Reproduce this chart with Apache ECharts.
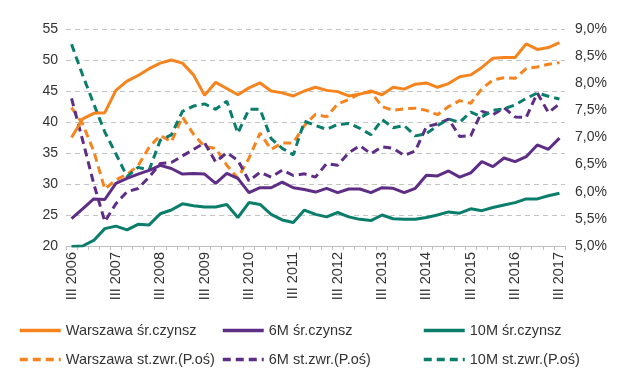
<!DOCTYPE html>
<html>
<head>
<meta charset="utf-8">
<script src="https://cdn.jsdelivr.net/npm/echarts@6/dist/echarts.min.js"></script>
<style>
html,body{margin:0;padding:0;background:#fff;}
#chart{width:640px;height:383px;}
</style>
</head>
<body>
<div id="chart"></div>
<script>
var categories = [
 "III 2006","IV 2006","I 2007","II 2007","III 2007","IV 2007","I 2008","II 2008",
 "III 2008","IV 2008","I 2009","II 2009","III 2009","IV 2009","I 2010","II 2010",
 "III 2010","IV 2010","I 2011","II 2011","III 2011","IV 2011","I 2012","II 2012",
 "III 2012","IV 2012","I 2013","II 2013","III 2013","IV 2013","I 2014","II 2014",
 "III 2014","IV 2014","I 2015","II 2015","III 2015","IV 2015","I 2016","II 2016",
 "III 2016","IV 2016","I 2017","II 2017","III 2017"
];
// left axis: average rent (PLN/m2)
var warszawaRent = [37.5,40.5,41.4,41.5,45.1,46.6,47.5,48.6,49.5,50.0,49.5,47.6,44.3,46.4,45.4,44.4,
 45.5,46.3,45.0,44.7,44.2,45.0,45.6,45.1,44.9,44.2,44.5,45.0,44.4,45.6,45.3,46.1,
 46.3,45.6,46.2,47.3,47.6,48.8,50.3,50.4,50.4,52.6,51.7,52.0,52.8];
var m6Rent = [24.4,26.0,27.6,27.5,30.1,30.9,31.6,32.2,33.0,32.5,31.6,31.7,31.6,30.1,31.7,30.9,
 28.6,29.4,29.4,30.3,29.4,29.1,28.7,29.3,28.6,29.2,29.2,28.6,29.4,29.3,28.6,29.3,
 31.4,31.3,32.1,31.1,31.8,33.6,32.8,34.2,33.6,34.4,36.3,35.6,37.4];
var m10Rent = [19.9,20.0,20.9,22.8,23.2,22.6,23.5,23.4,25.2,25.8,26.8,26.5,26.3,26.3,26.7,24.6,
 27.0,26.7,25.1,24.2,23.8,25.8,25.1,24.7,25.4,24.7,24.3,24.1,25.0,24.4,24.3,24.3,
 24.6,25.0,25.5,25.3,26.0,25.7,26.2,26.6,27.0,27.6,27.6,28.1,28.5];
// right axis: rate of return (%)
var warszawaYield = [7.55,7.25,6.75,6.05,6.22,6.32,6.48,6.82,7.04,6.92,7.38,7.06,6.83,6.80,6.49,6.25,
 6.62,7.08,6.78,6.90,6.90,7.22,7.43,7.38,7.62,7.70,7.81,7.84,7.57,7.50,7.53,7.54,
 7.50,7.42,7.57,7.68,7.63,7.90,8.06,8.10,8.09,8.27,8.30,8.35,8.38];
var m6Yield = [7.72,6.95,6.15,5.45,5.78,6.00,6.06,6.27,6.52,6.54,6.66,6.78,6.90,6.55,6.72,6.58,
 6.20,6.36,6.27,6.40,6.30,6.33,6.27,6.52,6.49,6.72,6.85,6.70,6.83,6.80,6.67,6.75,
 7.20,7.25,7.34,7.02,7.03,7.48,7.42,7.55,7.38,7.37,7.82,7.46,7.62];
var m10Yield = [8.72,8.15,7.62,7.10,6.70,6.28,6.45,6.40,6.95,7.05,7.48,7.58,7.62,7.52,7.67,7.08,
 7.52,7.52,6.98,6.80,6.68,7.30,7.22,7.15,7.24,7.26,7.17,7.05,7.33,7.18,7.22,7.03,
 7.07,7.22,7.34,7.28,7.47,7.38,7.50,7.53,7.60,7.72,7.82,7.76,7.71];
var leftTicks = {min:20, max:55, interval:5};
var rightTicks = {min:5, max:9, interval:0.5};
var names = ["Warszawa śr.czynsz","6M śr.czynsz","10M śr.czynsz",
 "Warszawa st.zwr.(P.oś)","6M st.zwr.(P.oś)","10M st.zwr.(P.oś)"];

var ORANGE = '#F5841F', PURPLE = '#5E2D85', TEAL = '#0A7E6B';
var FONT = 'Liberation Sans, Arial, sans-serif';
var TXT = '#333333';

function solid(name, data, color){
  return {name:name, type:'line', yAxisIndex:0, data:data, symbol:'none', smooth:false,
    lineStyle:{color:color, width:3}, itemStyle:{color:color}};
}
function dashed(name, data, color){
  return {name:name, type:'line', yAxisIndex:1, data:data, symbol:'none', smooth:false,
    lineStyle:{color:color, width:3, type:[8,5]}, itemStyle:{color:color}};
}
function legendCol(left, items){
  return {data:items, orient:'vertical', left:left, top:318, padding:5, itemWidth:41, itemHeight:14,
    itemGap:14, itemTextGap:2,
    itemStyle:{opacity:0, borderWidth:0},
    lineStyle:{width:3.5},
    textStyle:{fontFamily:FONT, fontSize:14.5, color:TXT}, selectedMode:false};
}

var chart = echarts.init(document.getElementById('chart'), null, {renderer:'canvas'});
chart.setOption({
  animation:false,
  backgroundColor:'#ffffff',
  grid:{left:66, right:75, top:29, bottom:137, containLabel:false},
  legend:[
    legendCol(13, [names[0], names[3]]),
    legendCol(216, [names[1], names[4]]),
    legendCol(417, [names[2], names[5]])
  ],
  xAxis:{
    type:'category', data:categories, boundaryGap:true,
    axisLine:{show:true, lineStyle:{color:'#bfbfbf', width:1}},
    axisTick:{show:true, interval:0, length:4, lineStyle:{color:'#bfbfbf'}},
    axisLabel:{interval:3, rotate:90, margin:6, fontFamily:FONT, fontSize:14.5, color:TXT}
  },
  yAxis:[
    {type:'value', min:leftTicks.min, max:leftTicks.max, interval:leftTicks.interval,
     axisLine:{show:false}, axisTick:{show:false},
     axisLabel:{margin:8, fontFamily:FONT, fontSize:14, color:TXT},
     splitLine:{show:true, lineStyle:{color:'#c4c4c4', type:[5,4], width:1}}},
    {type:'value', min:rightTicks.min, max:rightTicks.max, interval:rightTicks.interval,
     position:'right',
     axisLine:{show:false}, axisTick:{show:false}, splitLine:{show:false},
     axisLabel:{margin:10, fontFamily:FONT, fontSize:14, color:TXT,
       formatter:function(v){return v.toFixed(1).replace('.', ',') + '%';}}}
  ],
  series:[
    dashed(names[3], warszawaYield, ORANGE),
    dashed(names[4], m6Yield, PURPLE),
    dashed(names[5], m10Yield, TEAL),
    solid(names[0], warszawaRent, ORANGE),
    solid(names[1], m6Rent, PURPLE),
    solid(names[2], m10Rent, TEAL)
  ]
});
</script>
</body>
</html>
